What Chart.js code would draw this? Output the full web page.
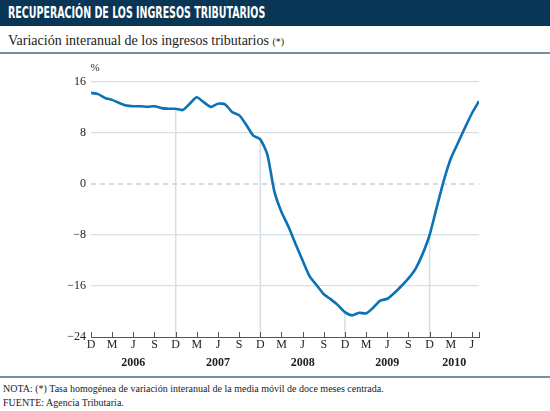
<!DOCTYPE html>
<html>
<head>
<meta charset="utf-8">
<script src="https://cdn.jsdelivr.net/npm/chart.js@4.4.1/dist/chart.umd.min.js"></script>
<style>
    body { margin: 0; width: 550px; height: 411px; background: #fff; position: relative; overflow: hidden; }
    .header { position: absolute; left: 0; top: 0; width: 550px; height: 26px; background: #0a3656; }
    .header span { position: absolute; left: 8px; top: 3px; color: #fff; font: bold 16px "DejaVu Sans Condensed", sans-serif; transform: scaleX(0.66); transform-origin: left top; white-space: nowrap; }
    .subtitle { position: absolute; left: 8px; top: 33px; font: 14px "Liberation Serif", serif; color: #222; }
    .subtitle small { font-size: 10px; }
    .rule { position: absolute; left: 0; width: 550px; height: 1.5px; background: #7590a5; }
    .notes { position: absolute; left: 3px; top: 382px; font: 10px "Liberation Serif", serif; color: #222; line-height: 14px; }
    #wrap { position: absolute; left: 0; top: 56px; width: 550px; height: 320px; }
</style>
</head>
<body>
<div class="header"><span>RECUPERACIÓN DE LOS INGRESOS TRIBUTARIOS</span></div>
<div class="subtitle">Variación interanual de los ingresos tributarios <small>(*)</small></div>
<div class="rule" style="top:52px"></div>
<div id="wrap"><canvas id="chart"></canvas></div>
<div class="rule" style="top:376px"></div>
<div class="notes">NOTA: (*) Tasa homogénea de variación interanual de la media móvil de doce meses centrada.<br>FUENTE: Agencia Tributaria.</div>

<script>
// meses de dic 2005 a jul 2010
const monthLetters = ['D', 'E', 'F', 'M', 'A', 'M', 'J', 'J', 'A', 'S', 'O', 'N'];
const years = ['2006', '2007', '2008', '2009', '2010'];
const variation = [
    14.3, 14.1, 13.5, 13.2, 12.7, 12.3, 12.2, 12.2, 12.1, 12.2, 11.9, 11.8,
    11.8, 11.6, 12.6, 13.6, 12.8, 12.1, 12.6, 12.5, 11.3, 10.8, 9.3, 7.6,
    7.0, 4.6, -1.2, -4.4, -6.7, -9.4, -12.0, -14.5, -15.9, -17.3, -18.1, -19.0,
    -20.1, -20.6, -20.2, -20.3, -19.4, -18.3, -18.0, -17.1, -16.0, -14.8, -13.3, -11.0,
    -8.0, -3.7, 0.5, 4.0, 6.4, 8.8, 11.1, 13.0
];
const yTicks = [16, 8, 0, -8, -16, -24];

const points = variation.map((v, i) => ({ x: i, y: v }));

/* Lineas verticales, cero punteado, marcas y etiquetas del eje X */
const decorations = {
    id: 'decorations',
    beforeDatasetsDraw(chart) {
        const { ctx, chartArea, scales: { x, y } } = chart;
        ctx.save();
        // lineas en cada diciembre, hasta la curva
        ctx.strokeStyle = '#d6dee4';
        ctx.lineWidth = 1.5;
        [12, 24, 36, 48].forEach(i => {
            const px = x.getPixelForValue(i);
            ctx.beginPath();
            ctx.moveTo(px, y.getPixelForValue(variation[i]));
            ctx.lineTo(px, chartArea.bottom);
            ctx.stroke();
        });
        // cero punteado
        ctx.strokeStyle = '#c3d2dc';
        ctx.setLineDash([5, 4]);
        const y0 = y.getPixelForValue(0);
        ctx.beginPath();
        ctx.moveTo(chartArea.left, y0);
        ctx.lineTo(chartArea.right, y0);
        ctx.stroke();
        ctx.restore();
    },
    afterDraw(chart) {
        const { ctx, chartArea, scales: { x, y } } = chart;
        ctx.save();
        const bottom = chartArea.bottom;
        // marcas hacia arriba
        ctx.strokeStyle = '#555';
        ctx.lineWidth = 1;
        const marks = [];
        for (let i = 0; i < variation.length; i += 3) marks.push(i);
        marks.push(variation.length - 1);
        marks.forEach(i => {
            const px = Math.round(x.getPixelForValue(i)) + 0.5;
            ctx.beginPath();
            ctx.moveTo(px, bottom);
            ctx.lineTo(px, bottom - 5);
            ctx.stroke();
        });
        // letras de los meses
        ctx.fillStyle = '#222';
        ctx.font = '12px "Liberation Serif", serif';
        ctx.textAlign = 'center';
        ctx.textBaseline = 'middle';
        for (let i = 0; i < variation.length; i += 3) {
            ctx.fillText(monthLetters[i % 12], x.getPixelForValue(i), bottom + 8);
        }
        // años
        ctx.font = 'bold 12px "Liberation Serif", serif';
        years.forEach((yr, k) => {
            const a = k * 12;
            const b = Math.min(a + 12, variation.length - 1);
            ctx.fillText(yr, (x.getPixelForValue(a) + x.getPixelForValue(b)) / 2, bottom + 26);
        });
        // unidad
        ctx.font = '11px "Liberation Serif", serif';
        ctx.fillText('%', chartArea.left + 4, y.getPixelForValue(16) - 14);
        ctx.restore();
    }
};

new Chart(document.getElementById('chart'), {
    type: 'line',
    data: {
        datasets: [{
            data: points,
            borderColor: '#0b72b5',
            borderWidth: 2.6,
            pointRadius: 0,
            tension: 0.2,
            fill: false
        }]
    },
    options: {
        responsive: true,
        maintainAspectRatio: false,
        animation: false,
        layout: { padding: { left: 0, right: 71, top: 26, bottom: 0 } },
        plugins: {
            legend: { display: false },
            tooltip: { enabled: false }
        },
        scales: {
            x: {
                type: 'linear',
                min: 0,
                max: variation.length - 1,
                ticks: { display: false },
                grid: { display: false },
                border: { display: true, color: '#555', width: 1 },
                afterFit: scale => { scale.height = 39; }
            },
            y: {
                min: -24,
                max: 16,
                afterBuildTicks: scale => { scale.ticks = yTicks.map(v => ({ value: v })); },
                ticks: {
                    color: '#222',
                    font: { family: '"Liberation Serif", serif', size: 12 },
                    padding: 5,
                    callback: v => (v < 0 ? '\u2212' + Math.abs(v) : v)
                },
                grid: {
                    drawTicks: false,
                    lineWidth: 1.2,
                    color: ctx => (ctx.tick && (ctx.tick.value === 0 || ctx.tick.value === -24)) ? 'rgba(0,0,0,0)' : '#d6e0e7'
                },
                border: { display: false },
                afterFit: scale => { scale.width = 91; }
            }
        }
    },
    plugins: [decorations]
});
</script>
</body>
</html>
